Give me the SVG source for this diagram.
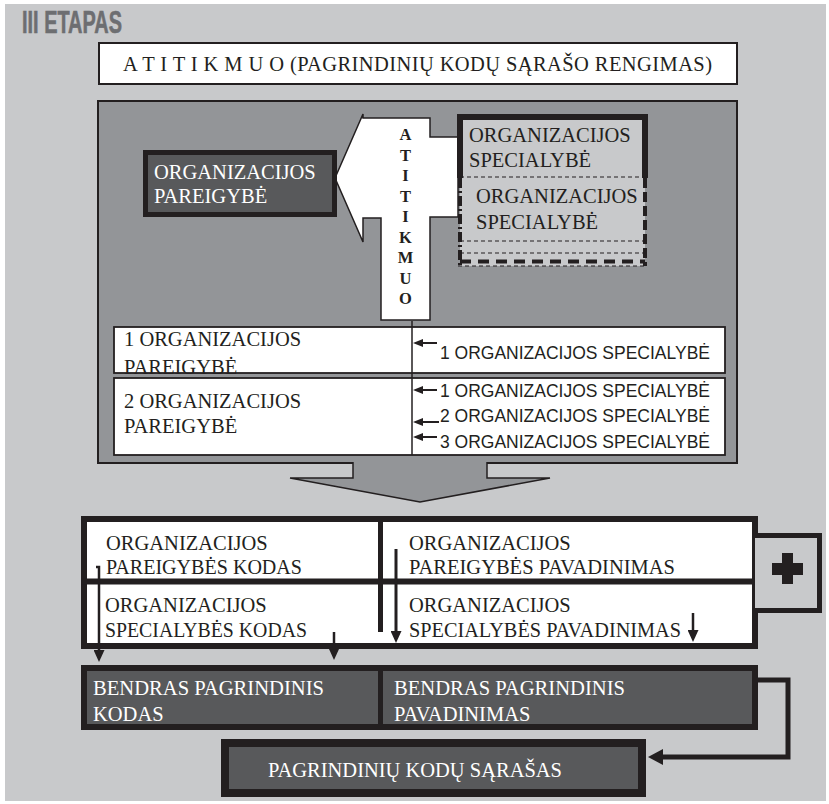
<svg xmlns="http://www.w3.org/2000/svg" width="829" height="804" viewBox="0 0 829 804">
<defs>
<style>
.serif{font-family:"Liberation Serif","Times New Roman",serif;font-size:20.5px;fill:#231f20}
.wt{fill:#ffffff}
.sans{font-family:"Liberation Sans",Arial,sans-serif;font-size:19px;fill:#231f20}
.bold{font-family:"Liberation Serif","Times New Roman",serif;font-size:16.5px;font-weight:bold;fill:#231f20;text-anchor:middle}
.ln{stroke:#231f20;fill:none}
.ink{fill:#231f20}
</style>
<marker id="ahs" markerUnits="userSpaceOnUse" markerWidth="10" markerHeight="8" refX="6" refY="4" orient="auto"><path d="M0,0 L10,4 L0,8 Z" fill="#231f20"/></marker>
<marker id="ahd" markerUnits="userSpaceOnUse" markerWidth="12" markerHeight="11" refX="8" refY="5.5" orient="auto"><path d="M0,0 L12,5.5 L0,11 Z" fill="#231f20"/></marker>
<marker id="ahl" markerUnits="userSpaceOnUse" markerWidth="15" markerHeight="16" refX="3" refY="8" orient="auto"><path d="M0,0 L15,8 L0,16 Z" fill="#231f20"/></marker>
</defs>
<rect x="0" y="0" width="829" height="804" fill="#ffffff"/>
<rect x="5" y="4" width="821" height="797" fill="#c8c9cb"/>

<g id="title">
<text x="22" y="33" font-family="'Liberation Sans',Arial,sans-serif" font-size="31" font-weight="bold" fill="#6d6e71" stroke="#6d6e71" stroke-width="0.6" textLength="100" lengthAdjust="spacingAndGlyphs">III ETAPAS</text>
</g>

<g id="header">
<rect x="99" y="43" width="638" height="41" fill="#ffffff" stroke="#231f20" stroke-width="2"/>
<text class="serif" x="123" y="71" textLength="589" lengthAdjust="spacing">A T I T I K M U O (PAGRINDINIŲ KODŲ SĄRAŠO RENGIMAS)</text>
</g>

<g id="panel">
<rect x="98" y="101" width="639" height="362" fill="#939598" stroke="#231f20" stroke-width="2"/>
<polygon points="353,461 353,478 290,478 420,502 550,478 487,478 487,461" fill="#939598"/>
<polyline class="ln" points="353,462 353,478 290,478 420,502 550,478 487,478 487,462" stroke-width="1.5"/>
</g>

<g id="atitikmuo-arrow">
<path d="M335,178 L363,114 L363,118 L430,118 L430,137 L458,137 L458,217 L430,217 L430,320 L381,320 L381,218 L363,218 L363,242 Z" fill="#ffffff" stroke="#231f20" stroke-width="1.5"/>
<text class="bold" x="405.5" y="140">A</text>
<text class="bold" x="405.5" y="160.5">T</text>
<text class="bold" x="405.5" y="181">I</text>
<text class="bold" x="405.5" y="201.5">T</text>
<text class="bold" x="405.5" y="222">I</text>
<text class="bold" x="405.5" y="242.5">K</text>
<text class="bold" x="405.5" y="263">M</text>
<text class="bold" x="405.5" y="283.5">U</text>
<text class="bold" x="405.5" y="304">O</text>
</g>

<g id="pareigybe">
<rect x="145.5" y="152.5" width="189" height="62" fill="#58595b" stroke="#231f20" stroke-width="5"/>
<text class="serif wt" x="154" y="179">ORGANIZACIJOS</text>
<text class="serif wt" x="154" y="203">PAREIGYBĖ</text>
</g>

<g id="specialybe">
<rect x="460" y="117" width="185" height="149" fill="#c8c9cb"/>
<path class="ln" d="M460,178 V117 H645 V178" stroke-width="6"/>
<line class="ln" x1="460" y1="177" x2="645" y2="177" stroke-width="1.2" stroke-dasharray="4 3"/>
<line class="ln" x1="460" y1="178" x2="460" y2="266" stroke-width="4" stroke-dasharray="10 3 2 3"/>
<line class="ln" x1="645" y1="178" x2="645" y2="266" stroke-width="4" stroke-dasharray="10 4"/>
<line class="ln" x1="460" y1="241" x2="645" y2="241" stroke-width="1.2" stroke-dasharray="4 3"/>
<line class="ln" x1="460" y1="253" x2="645" y2="253" stroke-width="1.2" stroke-dasharray="4 3"/>
<line class="ln" x1="460" y1="261.5" x2="645" y2="261.5" stroke-width="4" stroke-dasharray="11 7"/>
<line class="ln" x1="458" y1="266" x2="647" y2="266" stroke-width="1.2" stroke-dasharray="4 3"/>
<text class="serif" x="469" y="142">ORGANIZACIJOS</text>
<text class="serif" x="469" y="167">SPECIALYBĖ</text>
<text class="serif" x="476" y="203">ORGANIZACIJOS</text>
<text class="serif" x="476" y="229">SPECIALYBĖ</text>
</g>

<g id="table-row-1">
<rect x="114" y="327" width="611" height="46" fill="#ffffff"/>
<text class="serif" x="124" y="346">1 ORGANIZACIJOS</text>
<text class="serif" x="124" y="373.5">PAREIGYBĖ</text>
<text class="sans" x="440" y="359" textLength="270" lengthAdjust="spacingAndGlyphs">1 ORGANIZACIJOS SPECIALYBĖ</text>
<rect class="ln" x="114" y="327" width="611" height="46" stroke-width="1.8"/>
</g>

<g id="table-row-2">
<rect x="114" y="378" width="611" height="77" fill="#ffffff" stroke="#231f20" stroke-width="1.8"/>
<text class="serif" x="124" y="408">2 ORGANIZACIJOS</text>
<text class="serif" x="124" y="433">PAREIGYBĖ</text>
<text class="sans" x="440" y="397" textLength="270" lengthAdjust="spacingAndGlyphs">1 ORGANIZACIJOS SPECIALYBĖ</text>
<text class="sans" x="440" y="422" textLength="270" lengthAdjust="spacingAndGlyphs">2 ORGANIZACIJOS SPECIALYBĖ</text>
<text class="sans" x="440" y="448" textLength="270" lengthAdjust="spacingAndGlyphs">3 ORGANIZACIJOS SPECIALYBĖ</text>
</g>

<g id="code-table">
<rect x="84" y="519" width="671" height="127" fill="#ffffff" stroke="#231f20" stroke-width="6"/>
<line class="ln" x1="81" y1="581.5" x2="758" y2="581.5" stroke-width="6"/>
<line class="ln" x1="380.5" y1="517" x2="380.5" y2="632" stroke-width="5"/>
<text class="serif" x="106" y="550">ORGANIZACIJOS</text>
<text class="serif" x="106" y="574" textLength="196" lengthAdjust="spacingAndGlyphs">PAREIGYBĖS KODAS</text>
<text class="serif" x="105" y="612">ORGANIZACIJOS</text>
<text class="serif" x="105" y="637" textLength="202" lengthAdjust="spacingAndGlyphs">SPECIALYBĖS KODAS</text>
<text class="serif" x="409" y="550">ORGANIZACIJOS</text>
<text class="serif" x="409" y="574" textLength="266" lengthAdjust="spacingAndGlyphs">PAREIGYBĖS PAVADINIMAS</text>
<text class="serif" x="409" y="612">ORGANIZACIJOS</text>
<text class="serif" x="409" y="637" textLength="272" lengthAdjust="spacingAndGlyphs">SPECIALYBĖS PAVADINIMAS</text>
</g>

<g id="plus">
<path d="M755,535.5 H819.5 V610.5 H755" fill="#c8c9cb" stroke="#231f20" stroke-width="5"/>
<rect class="ink" x="782" y="553" width="11" height="31"/>
<rect class="ink" x="772" y="563" width="31" height="12"/>
</g>

<g id="bendras">
<rect x="84" y="668" width="671" height="59" fill="#58595b" stroke="#231f20" stroke-width="6"/>
<line class="ln" x1="380.5" y1="666" x2="380.5" y2="729" stroke-width="5"/>
<text class="serif wt" x="93" y="695" textLength="231" lengthAdjust="spacingAndGlyphs">BENDRAS PAGRINDINIS</text>
<text class="serif wt" x="93" y="721">KODAS</text>
<text class="serif wt" x="394" y="695" textLength="231" lengthAdjust="spacingAndGlyphs">BENDRAS PAGRINDINIS</text>
<text class="serif wt" x="394" y="721">PAVADINIMAS</text>
</g>

<g id="sarasas">
<rect x="225" y="743" width="417" height="50" fill="#58595b" stroke="#231f20" stroke-width="8"/>
<text class="serif wt" x="268" y="777" textLength="294" lengthAdjust="spacingAndGlyphs">PAGRINDINIŲ KODŲ SĄRAŠAS</text>
</g>

<g id="connectors">
<line class="ln" x1="412" y1="321" x2="412" y2="455" stroke-width="1.5"/>
<path class="ln" d="M437,343 H417" stroke-width="2" marker-end="url(#ahs)"/>
<path class="ln" d="M437,390 H417" stroke-width="2" marker-end="url(#ahs)"/>
<path class="ln" d="M439,422 H417" stroke-width="2" marker-end="url(#ahs)"/>
<path class="ln" d="M437,437 H417" stroke-width="2" marker-end="url(#ahs)"/>
<path class="ln" d="M96,567 H99 V658" stroke-width="2.5" marker-end="url(#ahd)"/>
<path class="ln" d="M334,632 V656" stroke-width="2.5" marker-end="url(#ahd)"/>
<path class="ln" d="M396,549 V639" stroke-width="3" marker-end="url(#ahd)"/>
<path class="ln" d="M693,613 V638" stroke-width="2.5" marker-end="url(#ahd)"/>
<path class="ln" d="M756,680 H788 V757 H660" stroke-width="5" marker-end="url(#ahl)"/>
</g>
</svg>
